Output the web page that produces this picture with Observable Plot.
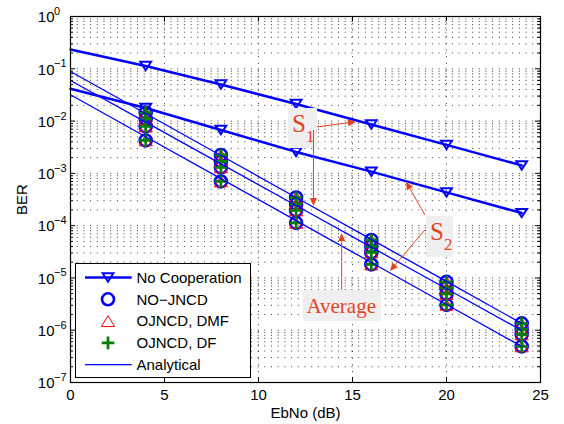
<!DOCTYPE html>
<html><head><meta charset="utf-8">
<script src="https://cdn.jsdelivr.net/npm/d3@7"></script>
<script src="https://cdn.jsdelivr.net/npm/@observablehq/plot@0.6"></script>
<style>body{margin:0;background:#fff}</style>
</head><body><div id="chart"></div>
<script>
// ---------- data ----------
const snr = [0, 4, 8, 12, 16, 20, 24];          // EbNo (dB) for curves
const simSnr = [4, 8, 12, 16, 20, 24];          // EbNo (dB) for simulated markers
const noCoopS1 = [0.234, 0.113, 0.050, 0.0212, 0.0086, 0.0035, 0.00142];
const noCoopS2 = [0.0415, 0.0178, 0.00676, 0.00257, 0.00108, 0.000432, 0.000174];
const analyticS1 = [0.0887, 0.01396, 0.0022, 3.46e-4, 5.45e-5, 8.57e-6, 1.35e-6];
const analyticAvg = [0.0597, 0.00953, 0.00152, 2.43e-4, 3.88e-5, 6.21e-6, 9.9e-7];
const analyticS2 = [0.0318, 0.00502, 7.92e-4, 1.25e-4, 1.97e-5, 3.11e-6, 4.9e-7];
const simS1 = [0.0146, 0.00225, 3.46e-4, 5.33e-5, 8.4e-6, 1.35e-6];
const simS1b = [0.011, 0.00169, 2.6e-4, 4.0e-5, 6.45e-6, 1.04e-6];
const simAvg = [0.0079, 0.0013, 1.95e-4, 3.07e-5, 4.95e-6, 8.3e-7];
const simS2 = [0.00426, 0.0007, 1.13e-4, 1.81e-5, 3.05e-6, 4.9e-7];
const xTicks = [0, 5, 10, 15, 20, 25];
const yTicks = [1, 0.1, 0.01, 1e-3, 1e-4, 1e-5, 1e-6, 1e-7];
const yTickExp = ["0", "\u22121", "\u22122", "\u22123", "\u22124", "\u22125", "\u22126", "\u22127"];
const legendLabels = ["No Cooperation", "NO\u2212JNCD", "OJNCD, DMF", "OJNCD, DF", "Analytical"];
const xLabel = "EbNo (dB)";
const yLabel = "BER";
// annotations (data coordinates)
const annMain = ["S", "S", "Average"];
const annSub = ["1", "2", ""];
const annBoxX = [[11.6, 13.14], [18.94, 20.37], [12.39, 16.54]];
const annBoxY = [[0.01742, 0.00299], [1.5e-4, 2.466e-5], [5.77e-6, 1.47e-6]];
const arrowFrom = [[13.14, 0.00755], [12.95, 0.00661], [18.88, 1.567e-4], [18.88, 8.09e-5], [14.45, 5.77e-6]];
const arrowTo = [[15.21, 0.00953], [12.95, 2.33e-4], [17.87, 6.79e-4], [17.02, 1.33e-5], [14.45, 7.1e-5]];

// ---------- layout / style ----------
const W = 564, H = 424, mL = 70, mR = 24, mT = 16, mB = 42;
const plotW = W - mL - mR, plotH = H - mT - mB;
const blue = "#0000ff", red = "#ff0000", green = "#008000", annColor = "#e2441f";
const gridColor = "#3a3a3a", dash = "1,5.7";

const triDown = {draw(ctx, size) {const r = Math.sqrt(size / Math.PI), w = 1.05 * r, h = 0.82 * r;
  ctx.moveTo(-w, -h); ctx.lineTo(w, -h); ctx.lineTo(0, h); ctx.closePath();}};
const triUp = {draw(ctx, size) {const r = Math.sqrt(size / Math.PI), w = 1.05 * r, h = 0.85 * r;
  ctx.moveTo(-w, h); ctx.lineTo(w, h); ctx.lineTo(0, -h); ctx.closePath();}};
const plusSym = {draw(ctx, size) {const r = Math.sqrt(size / Math.PI);
  ctx.moveTo(-r, 0); ctx.lineTo(r, 0); ctx.moveTo(0, -r); ctx.lineTo(0, r);}};

const simRows = simSnr.flatMap((x, i) => [simS1[i], simS1b[i], simAvg[i], simS2[i]].map(y => ({x, y})));
const noCoopRows = simSnr.flatMap((x, i) => [noCoopS1[i + 1], noCoopS2[i + 1]].map(y => ({x, y})));

const yGrid = [];
for (let e = -7; e < 0; e++) for (let m = 1; m <= 9; m++) { const v = m * Math.pow(10, e); if (v > 1e-7 && v < 1) yGrid.push(v); }
const yMinor = yGrid.filter((v, i) => !yTicks.includes(v));

const line = (arr, w) => Plot.line(snr, {x: d => d, y: (d, i) => arr[i], stroke: blue, strokeWidth: w});

const plot = Plot.plot({
  width: W, height: H,
  marginLeft: mL, marginRight: mR, marginTop: mT, marginBottom: mB,
  style: {fontFamily: "'Liberation Sans', Arial, sans-serif", fontSize: "15px", background: "white", color: "black"},
  x: {domain: [0, 25], axis: null},
  y: {type: "log", domain: [1e-7, 1], axis: null},
  marks: [
    Plot.ruleY(yGrid, {stroke: gridColor, strokeDasharray: dash, strokeWidth: 1}),
    Plot.ruleX([5, 10, 15, 20], {stroke: gridColor, strokeDasharray: dash, strokeWidth: 1}),
    // ticks (inward)
    Plot.ruleX(xTicks, {insetTop: plotH - 5, stroke: "black"}),
    Plot.ruleX(xTicks, {insetBottom: plotH - 5, stroke: "black"}),
    Plot.ruleY(yTicks, {insetRight: plotW - 5, stroke: "black"}),
    Plot.ruleY(yTicks, {insetLeft: plotW - 5, stroke: "black"}),
    Plot.ruleY(yMinor, {insetRight: plotW - 3, stroke: "black"}),
    Plot.ruleY(yMinor, {insetLeft: plotW - 3, stroke: "black"}),
    // curves
    line(noCoopS1, 2.5),
    line(noCoopS2, 2.5),
    Plot.dot(noCoopRows, {x: "x", y: "y", r: 5.1, symbol: triDown, stroke: blue, strokeWidth: 2, fill: "none"}),
    Plot.dot(simRows, {x: "x", y: "y", r: 6, symbol: "circle", stroke: blue, strokeWidth: 2.6, fill: "none"}),
    Plot.dot(simRows, {x: "x", y: "y", r: 6.3, symbol: triUp, stroke: red, strokeWidth: 1, fill: "none"}),
    Plot.dot(simRows, {x: "x", y: "y", r: 6.3, symbol: plusSym, stroke: green, strokeWidth: 2.7, fill: "none"}),
    line(analyticS1, 1.3),
    line(analyticAvg, 1.3),
    line(analyticS2, 1.3),
    Plot.frame({stroke: "black", strokeWidth: 1.2}),
    // axes labels
    Plot.axisX({ticks: xTicks, tickSize: 0, tickPadding: 7, label: null, fontSize: 15}),
    Plot.text(yTicks, {y: d => d, frameAnchor: "left", text: () => "10", textAnchor: "end", dx: -16, dy: 1, fontSize: 15}),
    Plot.text(yTicks, {y: d => d, frameAnchor: "left", text: (d, i) => yTickExp[i], textAnchor: "start", dx: -16.5, dy: -5, fontSize: 11}),
    Plot.text([xLabel], {frameAnchor: "bottom", text: d => d, dy: 31, lineAnchor: "middle", fontSize: 15}),
    Plot.text([yLabel], {frameAnchor: "left", text: d => d, rotate: -90, dx: -48, lineAnchor: "middle", textAnchor: "middle", fontSize: 15})
  ]
});
document.getElementById("chart").appendChild(plot);

// ---------- annotations & legend ----------
const xs = plot.scale("x"), ys = plot.scale("y");
const X = v => xs.apply(v), Y = v => ys.apply(v);
const svg = d3.select(plot);
const ann = svg.append("g").attr("text-anchor", "start");
annMain.forEach((t, i) => {
  const x0 = X(annBoxX[i][0]), x1 = X(annBoxX[i][1]);
  const y0 = Math.min(Y(annBoxY[i][0]), Y(annBoxY[i][1])), y1 = Math.max(Y(annBoxY[i][0]), Y(annBoxY[i][1]));
  ann.append("rect").attr("x", x0).attr("y", y0).attr("width", x1 - x0).attr("height", y1 - y0).attr("fill", "#efefef");
  const isSub = annSub[i] !== "";
  const txt = ann.append("text").attr("x", x0 + (isSub ? 4 : 3.5)).attr("y", y0 + (isSub ? 24 : 22.7))
    .attr("text-anchor", "start")
    .attr("fill", annColor).attr("font-family", "'Liberation Serif', 'Times New Roman', serif")
    .attr("font-size", isSub ? 25 : 21).text(t);
  if (isSub) txt.append("tspan").attr("dy", 10).attr("font-size", 17).text(annSub[i]);
});
arrowFrom.forEach((p, i) => {
  const x1 = X(p[0]), y1 = Y(p[1]), x2 = X(arrowTo[i][0]), y2 = Y(arrowTo[i][1]);
  const L = 8, Wd = 3.5, dx = x2 - x1, dy = y2 - y1, len = Math.hypot(dx, dy), ux = dx / len, uy = dy / len;
  const bx = x2 - ux * L, by = y2 - uy * L;
  ann.append("line").attr("x1", x1).attr("y1", y1).attr("x2", bx).attr("y2", by).attr("stroke", annColor).attr("stroke-width", 1);
  ann.append("path").attr("d", `M${x2},${y2}L${bx - uy * Wd},${by + ux * Wd}L${bx + uy * Wd},${by - ux * Wd}Z`).attr("fill", annColor);
});

const lg = svg.append("g").attr("font-family", "'Liberation Sans', Arial, sans-serif").attr("font-size", 15).attr("text-anchor", "start");
lg.append("rect").attr("x", 75.5).attr("y", 263.5).attr("width", 175).attr("height", 114).attr("fill", "white").attr("stroke", "black").attr("stroke-width", 1);
const rowY = i => 277.5 + 21.8 * i;
const lx0 = 85, lx1 = 131.7, lmx = 108, ltx = 136.5;
legendLabels.forEach((lab, i) => {
  const y = rowY(i);
  if (i === 0 || i === 4) lg.append("line").attr("x1", lx0).attr("x2", lx1).attr("y1", y).attr("y2", y).attr("stroke", blue).attr("stroke-width", i === 0 ? 2.5 : 1.3);
  if (i === 0) lg.append("path").attr("transform", `translate(${lmx},${y})`).attr("d", d3.symbol(triDown, Math.PI * 5.1 * 5.1)()).attr("fill", "none").attr("stroke", blue).attr("stroke-width", 2);
  if (i === 1) lg.append("circle").attr("cx", lmx).attr("cy", y).attr("r", 6).attr("fill", "none").attr("stroke", blue).attr("stroke-width", 2.6);
  if (i === 2) lg.append("path").attr("transform", `translate(${lmx},${y})`).attr("d", d3.symbol(triUp, Math.PI * 6.3 * 6.3)()).attr("fill", "none").attr("stroke", red).attr("stroke-width", 1);
  if (i === 3) lg.append("path").attr("transform", `translate(${lmx},${y})`).attr("d", d3.symbol(plusSym, Math.PI * 6.3 * 6.3)()).attr("fill", "none").attr("stroke", green).attr("stroke-width", 2.7);
  lg.append("text").attr("x", ltx).attr("y", y).attr("dy", "0.35em").attr("text-anchor", "start").attr("fill", "black").text(lab);
});
</script></body></html>
